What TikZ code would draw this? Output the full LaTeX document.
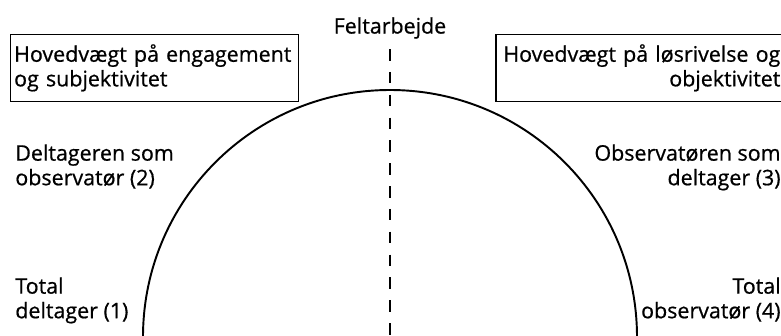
\documentclass[tikz,border=0pt]{standalone}
\usepackage{fontspec}
\setmainfont{Open Sans}
\newfontfamily\roleface{Open Sans}[FakeBold=0.7]
\newcommand{\lblfont}{\roleface\fontsize{12.2}{14}\selectfont}
\begin{document}
\begin{tikzpicture}[x=0.02cm, y=-0.02cm,
    lbl/.style={font=\lblfont, inner sep=0pt},
    emphbox/.style={draw, line width=0.7pt, font=\lblfont, inner xsep=2pt, inner ysep=5.5pt, text width=5.62cm}]
  \useasboundingbox (0,0) rectangle (781,335);

  % --- fieldwork axis ---
  \node[lbl] (felt) at (390,28) {Feltarbejde};
  \coordinate (axtop) at (390,49);
  \coordinate (axbot) at (390,335);
  \draw[line width=1pt, dash pattern=on 6.6pt off 6.4pt] (axtop) -- (axbot);

  % --- the half circle ---
  \draw[line width=1.1pt] (143,337) arc[start angle=180, end angle=360, radius=247];

  % --- emphasis boxes ---
  \node[emphbox, align=left, anchor=north west] (engbox) at (10,34)
    {Hovedvægt på engagement\\og subjektivitet};
  \node[emphbox, align=right, anchor=north east] (losbox) at (784.5,34)
    {Hovedvægt på løsrivelse og\\objektivitet};

  % --- roles, left ---
  \node[lbl, align=left, anchor=north west] (delt2) at (15,144)
    {Deltageren som\\observatør (2)};
  \node[lbl, align=left, anchor=north west] (total1) at (15,277)
    {Total\\deltager (1)};

  % --- roles, right ---
  \node[lbl, align=right, anchor=north east] (obs3) at (781,144)
    {Observatøren som\\deltager (3)};
  \node[lbl, align=right, anchor=north east] (total4) at (781,277)
    {Total\\observatør (4)};

\end{tikzpicture}
\end{document}
